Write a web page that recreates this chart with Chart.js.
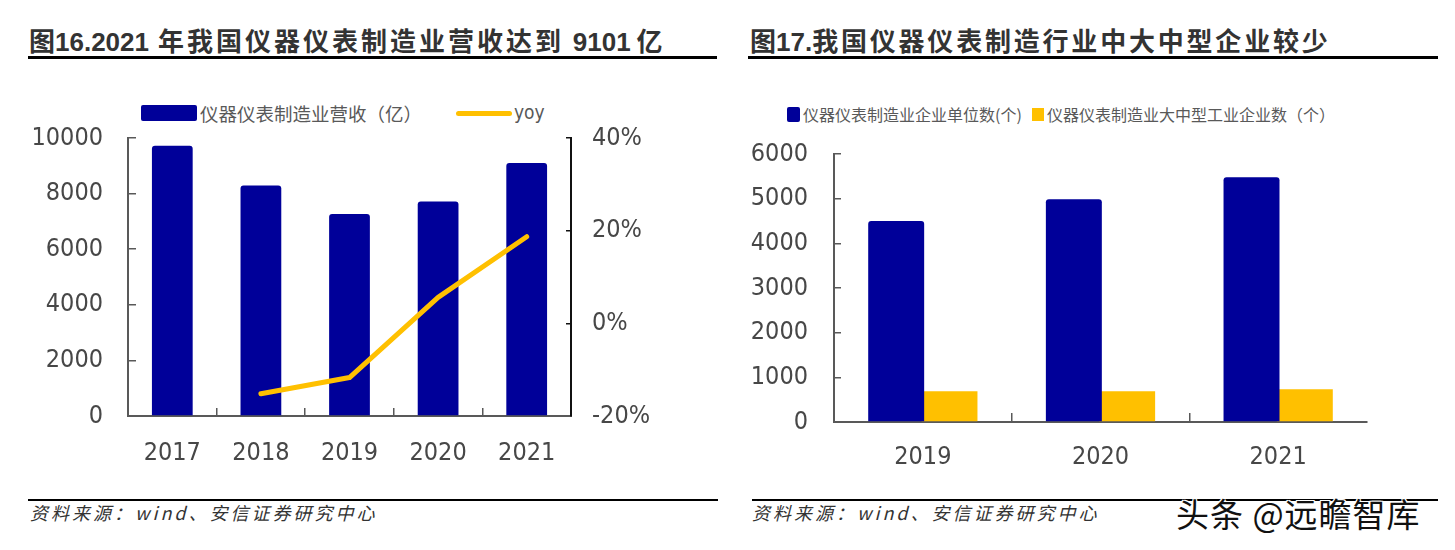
<!DOCTYPE html>
<html>
<head>
<meta charset="utf-8">
<script src="https://cdn.jsdelivr.net/npm/chart.js@4.4.0/dist/chart.umd.min.js"></script>
<style>
  html, body { margin:0; padding:0; background:#fff; }
  body { width:1455px; height:550px; position:relative; overflow:hidden; font-family:"Noto Sans CJK SC", sans-serif; }
  .abs { position:absolute; white-space:nowrap; }
  .title { font-weight:bold; font-size:26px; color:#333; line-height:30px; font-family:"Liberation Sans","Noto Sans CJK SC",sans-serif; }
  .cjk { font-family:"Noto Sans CJK SC",sans-serif; }
  .rule { position:absolute; background:#000; }
  .legtxt { color:#595959; line-height:22px; }
  .src { font-style:italic; font-size:18px; color:#333; letter-spacing:3px; line-height:22px; }
  .wm { font-size:33px; color:#111; letter-spacing:1px; line-height:36px;
        text-shadow: -1px -1px 0 #fff, 1px -1px 0 #fff, -1px 1px 0 #fff, 1px 1px 0 #fff; }
</style>
</head>
<body>
<script>
// ---------- data ----------
const revYears = ['2017', '2018', '2019', '2020', '2021'];
const revenue = [9724, 8287, 7270, 7716, 9101];          // 仪器仪表制造业营收（亿）
const yoy = [null, -15.2, -11.7, 5.6, 18.7];             // yoy (%)
const revTicks = [0, 2000, 4000, 6000, 8000, 10000];
const yoyTicks = [-20, 0, 20, 40];

const entYears = ['2019', '2020', '2021'];
const enterpriseUnits = [4500, 4985, 5478];              // 企业单位数(个)
const largeMediumUnits = [688, 688, 733];                // 大中型工业企业数（个）
const entTicks = [0, 1000, 2000, 3000, 4000, 5000, 6000];
</script>

<!-- titles -->
<div class="abs title" style="left:29px; top:25px;"><span class="cjk">图</span>16.2021<span class="cjk" style="letter-spacing:3px;"> 年我国仪器仪表制造业营收达到 </span>9101<span class="cjk"> 亿</span></div>
<div class="rule" style="left:28px; top:56px; width:689px; height:3px;"></div>

<div class="abs title" style="left:750px; top:25px;"><span class="cjk">图</span>17.<span class="cjk" style="letter-spacing:2.8px;">我国仪器仪表制造行业中大中型企业较少</span></div>
<div class="rule" style="left:748px; top:56px; width:690px; height:3px;"></div>

<!-- legends -->
<div class="abs" style="left:141px; top:105px; width:56px; height:16px; background:#000099; border-radius:2px;"></div>
<div class="abs legtxt" style="left:200px; top:102px; font-size:18.5px;">仪器仪表制造业营收（亿）</div>
<div class="abs" style="left:456px; top:111px; width:56px; height:5px; background:#FFC000; border-radius:3px;"></div>
<div class="abs legtxt" style="left:514px; top:101px; font-size:19px; font-family:'DejaVu Sans Condensed','Liberation Sans',sans-serif;">yoy</div>

<div class="abs" style="left:787px; top:107px; width:13px; height:15px; background:#000099; border-radius:2px;"></div>
<div class="abs legtxt" style="left:803px; top:103px; font-size:16px;">仪器仪表制造业企业单位数(个)</div>
<div class="abs" style="left:1032px; top:108px; width:12px; height:13px; background:#FFC000;"></div>
<div class="abs legtxt" style="left:1047px; top:103px; font-size:16px;">仪器仪表制造业大中型工业企业数（个）</div>

<!-- charts -->
<canvas id="c1" width="700" height="386" style="position:absolute; left:0px; top:90px;"></canvas>
<canvas id="c2" width="725" height="376" style="position:absolute; left:730px; top:106px;"></canvas>

<!-- footers -->
<div class="rule" style="left:28px; top:499px; width:690px; height:2px;"></div>
<div class="abs src" style="left:30px; top:501px;">资料来源：wind、安信证券研究中心</div>
<div class="rule" style="left:752px; top:499px; width:686px; height:2px;"></div>
<div class="abs src" style="left:752px; top:501px;">资料来源：wind、安信证券研究中心</div>
<div class="abs wm" style="left:1176px; top:495px;">头条 @远瞻智库</div>

<script>
const tickFont = { family: "'DejaVu Sans Condensed','Liberation Sans Narrow','Liberation Sans',sans-serif", size: 25 };
const tickColor = '#474747';
const axisGray = '#595959';

function fixedWidth(w) { return function (scale) { scale.width = w; }; }
function fixedHeight(h) { return function (scale) { scale.height = h; }; }
function onlyTicks(values) { return function (scale) { scale.ticks = values.map(v => ({ value: v })); }; }
const plain = v => String(v);

new Chart(document.getElementById('c1'), {
  data: {
    labels: revYears,
    datasets: [
      {
        type: 'line', label: 'yoy', data: yoy, yAxisID: 'y1', order: 1,
        borderColor: '#FFC000', backgroundColor: '#FFC000', borderWidth: 5,
        borderCapStyle: 'round', borderJoinStyle: 'round',
        pointRadius: 0, tension: 0, spanGaps: false
      },
      {
        type: 'bar', label: '仪器仪表制造业营收（亿）', data: revenue, yAxisID: 'y', order: 2,
        backgroundColor: '#000099', barPercentage: 0.46, categoryPercentage: 1,
        borderRadius: { topLeft: 3, topRight: 3 }, borderSkipped: 'bottom'
      }
    ]
  },
  options: {
    responsive: false, animation: false, devicePixelRatio: 1,
    layout: { padding: { top: 0, left: 0, right: 0, bottom: 0 } },
    plugins: { legend: { display: false }, tooltip: { enabled: false } },
    scales: {
      x: {
        type: 'category', afterFit: fixedHeight(60),
        grid: { drawOnChartArea: false, drawTicks: true, tickLength: -8, color: axisGray, lineWidth: 1.5, offset: true },
        border: { display: true, color: axisGray, width: 2 },
        ticks: { font: tickFont, color: tickColor, padding: 30, maxRotation: 0, autoSkip: false }
      },
      y: {
        position: 'left', min: 0, max: 10000, afterFit: fixedWidth(128),
        afterBuildTicks: onlyTicks(revTicks),
        grid: { drawOnChartArea: false, drawTicks: true, tickLength: -8, color: axisGray, lineWidth: 1.5 },
        border: { display: true, color: axisGray, width: 2 },
        ticks: { font: tickFont, color: tickColor, padding: 33, callback: plain }
      },
      y1: {
        position: 'right', min: -20, max: 40, afterFit: fixedWidth(129),
        afterBuildTicks: onlyTicks(yoyTicks),
        grid: { drawOnChartArea: false, drawTicks: true, tickLength: -5, color: '#111', lineWidth: 1.5 },
        border: { display: true, color: '#111', width: 2 },
        ticks: { font: tickFont, color: tickColor, padding: 26, callback: v => v + '%' }
      }
    }
  }
});

new Chart(document.getElementById('c2'), {
  type: 'bar',
  data: {
    labels: entYears,
    datasets: [
      {
        label: '仪器仪表制造业企业单位数(个)', data: enterpriseUnits,
        backgroundColor: '#000099', borderRadius: { topLeft: 3, topRight: 3 }, borderSkipped: 'bottom'
      },
      {
        label: '仪器仪表制造业大中型工业企业数（个）', data: largeMediumUnits,
        backgroundColor: '#FFC000'
      }
    ]
  },
  options: {
    responsive: false, animation: false, devicePixelRatio: 1,
    layout: { padding: { top: 0, left: 0, right: 88, bottom: 0 } },
    plugins: { legend: { display: false }, tooltip: { enabled: false } },
    datasets: { bar: { categoryPercentage: 0.6, barPercentage: 1.05 } },
    scales: {
      x: {
        afterFit: fixedHeight(60),
        grid: {
          drawOnChartArea: false, drawTicks: true, tickLength: -9, lineWidth: 1.5, offset: true,
          color: ctx => (ctx.type === 'tick' ? axisGray : 'rgba(0,0,0,0)')
        },
        border: { display: true, color: axisGray, width: 2 },
        ticks: { font: tickFont, color: tickColor, padding: 29, maxRotation: 0, autoSkip: false }
      },
      y: {
        min: 0, max: 6000, afterFit: fixedWidth(104),
        afterBuildTicks: onlyTicks(entTicks),
        grid: { drawOnChartArea: false, drawTicks: true, tickLength: -7, color: axisGray, lineWidth: 1.5 },
        border: { display: true, color: axisGray, width: 2 },
        ticks: { font: tickFont, color: tickColor, padding: 33, callback: plain }
      }
    }
  }
});
</script>
</body>
</html>
